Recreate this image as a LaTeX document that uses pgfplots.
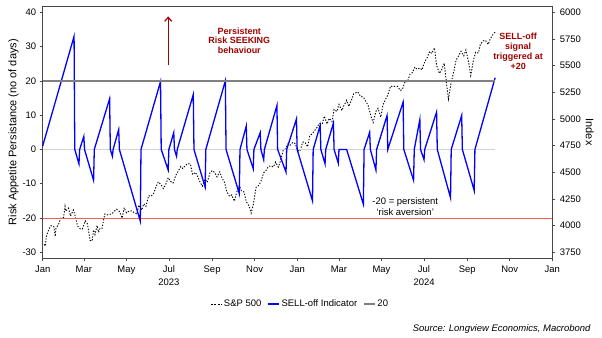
\documentclass[border=0pt]{standalone}
\usepackage{fontspec}
\setmainfont{Liberation Sans}
\usepackage{pgfplots}
\pgfplotsset{compat=1.18}
\usetikzlibrary{arrows.meta}
\definecolor{darkred}{RGB}{160,0,0}
\definecolor{axgray}{RGB}{70,70,70}
\definecolor{line20}{RGB}{128,128,128}
\definecolor{zerogray}{RGB}{210,210,210}
\definecolor{redline}{RGB}{255,90,90}
\definecolor{sellblue}{RGB}{0,0,255}

\begin{document}
\begin{tikzpicture}
\path[use as bounding box] (0bp,0bp) rectangle (602bp,338bp);
% ---------- S&P 500 on the right axis ----------
\begin{axis}[
  at={(42.7bp,79.7bp)}, anchor=south west,
  scale only axis, width=509.6bp, height=252.3bp,
  xmin=0, xmax=731, ymin=3693.75, ymax=6059,
  axis x line=none, axis y line*=right,
  axis line style={axgray, line width=0.8bp},
  ytick={3750,4000,4250,4500,4750,5000,5250,5500,5750,6000},
  tick align=outside, major tick length=3bp,
  tick style={axgray, line width=0.6bp},
  yticklabel style={font=\fontsize{9.5}{11}\selectfont, xshift=1bp},
  /pgf/number format/assume math mode=true,
  /pgf/number format/set thousands separator={},
  ylabel={Index}, ylabel style={rotate=180, font=\fontsize{11}{13}\selectfont},
  ylabel shift=-2bp,
]
\addplot[black, line width=0.9bp, dash pattern=on 1.3bp off 1.6bp] coordinates {
(2,3824) (4,3808) (5,3895) (9,3970) (12,3999) (16,3990) (18,3899) (19,3973) (23,4017) (26,4071)
(30,4077) (32,4180) (33,4136) (37,4164) (40,4090) (44,4147) (47,4079) (50,3997) (54,3970) (57,3970)
(61,4045) (64,4019) (68,3862) (71,3856) (73,3960) (75,3917) (78,4002) (80,3937) (82,3971) (85,3971)
(89,4109) (92,4100) (95,4105) (99,4109) (103,4137) (106,4154) (110,4133) (114,4071) (117,4169) (120,4119)
(124,4136) (127,4138) (131,4124) (135,4109) (138,4192) (142,4145) (145,4205) (148,4180) (152,4282) (155,4274)
(159,4299) (163,4372) (166,4410) (170,4381) (173,4348) (176,4378) (180,4450) (184,4411) (187,4399) (191,4473)
(194,4505) (198,4555) (201,4536) (205,4566) (208,4582) (212,4576) (215,4478) (219,4499) (222,4464) (226,4405)
(229,4370) (233,4436) (236,4406) (240,4497) (243,4516) (247,4497) (250,4457) (254,4505) (257,4450) (261,4402)
(264,4320) (268,4274) (271,4288) (275,4229) (278,4309) (282,4376) (285,4327) (289,4314) (292,4224) (296,4186)
(299,4117) (302,4194) (306,4358) (310,4378) (313,4415) (317,4495) (320,4514) (324,4556) (327,4559) (331,4550)
(334,4595) (338,4549) (341,4604) (345,4707) (348,4719) (352,4768) (355,4755) (359,4781) (362,4770) (366,4705)
(369,4697) (373,4783) (376,4784) (380,4739) (383,4840) (387,4864) (390,4891) (394,4925) (397,4959) (401,4954)
(404,5027) (408,4953) (411,5006) (415,4976) (418,5089) (422,5070) (425,5137) (429,5079) (432,5124) (436,5175)
(439,5117) (443,5179) (446,5234) (450,5248) (452,5254) (456,5211) (460,5204) (464,5160) (467,5123) (471,5022)
(474,4967) (478,5071) (481,5100) (485,5018) (488,5128) (492,5188) (495,5223) (499,5308) (502,5303) (506,5307)
(509,5305) (513,5267) (516,5278) (520,5354) (523,5347) (527,5421) (530,5432) (534,5487) (537,5465) (541,5478)
(544,5460) (548,5537) (551,5567) (555,5633) (558,5615) (562,5667) (565,5505) (569,5427) (572,5459) (576,5522)
(579,5346) (582,5186) (586,5344) (590,5455) (593,5554) (597,5597) (600,5635) (604,5592) (607,5648) (611,5529)
(614,5408) (618,5554) (621,5626) (625,5618) (628,5703) (632,5732) (635,5738) (639,5699) (642,5751) (646,5792)
(649,5815)
};
\end{axis}
% ---------- SELL-off indicator on the left axis ----------
\begin{axis}[
  at={(42.7bp,79.7bp)}, anchor=south west,
  scale only axis, width=509.6bp, height=252.3bp,
  xmin=0, xmax=731, ymin=-31.75, ymax=41.84,
  axis line style={axgray, line width=0.8bp},
  xtick pos=bottom, ytick pos=left,
  tick align=outside, major tick length=3bp,
  tick style={axgray, line width=0.6bp},
  ytick={-30,-20,-10,0,10,20,30,40},
  xtick={0,59,120,181,243,304,365,425,486,547,609,670,731},
  xticklabels={Jan,Mar,May,{Jul\\2023},Sep,Nov,Jan,Mar,May,{Jul\\2024},Sep,Nov,Jan},
  xticklabel style={font=\fontsize{9.5}{12.5}\selectfont, align=center, yshift=-1bp},
  yticklabel style={font=\fontsize{9.5}{11}\selectfont},
  /pgf/number format/assume math mode=true,
  ylabel={Risk Appetite Persistance (no of days)},
  ylabel style={font=\fontsize{11}{13}\selectfont},
  ylabel shift=-3bp,
  legend style={at={(0.505,-0.181)}, anchor=center, draw=none, fill=none,
    legend columns=-1, font=\fontsize{9.5}{11}\selectfont,
    /tikz/every even column/.append style={column sep=4bp}},
  legend image code/.code={\draw[#1] (0bp,0bp) -- (11bp,0bp);},
  clip=false,
]
\addlegendimage{black, line width=0.9bp, dash pattern=on 2bp off 1.6bp}
\addlegendentry{S\&P 500}
% background reference lines
\addplot[zerogray, line width=0.9bp, forget plot] coordinates {(0,0) (649,0)};
\addplot[redline, line width=0.9bp, forget plot] coordinates {(0,-20) (731,-20)};
\addplot[sellblue, line width=1.3bp] coordinates {
(0,1) (45,33) (46,0) (52,-4.2) (53,0) (59,3.8) (60,0) (73,-9) (74,0) (96,14.8)
(97,0) (100,-2) (101,0) (109,5.8) (110,0) (140,-20.9) (141,0) (169,19.8) (170,0) (180,-6)
(181,0) (188,4.9) (189,0) (192,-2) (193,0) (216,16) (217,0) (233,-11) (234,0) (262,20)
(263,0) (282,-12.9) (283,0) (292,6.8) (293,0) (302,-5.6) (303,0) (312,4.9) (313,0) (317,-3)
(318,0) (336,12.8) (337,0) (349,-6.6) (350,0) (364,8.9) (365,0) (387,-15) (388,0) (398,7)
(399,0) (405,-4.2) (406,0) (417,7.7) (418,0) (424,-4) (425,0) (436,0) (460,-16) (461,0)
(469,5) (470,0) (478,-6) (479,0) (494,9.9) (495,0) (517,13.8) (518,0) (532,-9) (533,0)
(541,8.7) (542,0) (547,-3) (548,0) (565,10.9) (566,0) (585,-14.1) (586,0) (601,9.9) (602,0)
(619,-12) (620,0) (649,20.9)
};
\addlegendentry{SELL-off Indicator}
\addplot[line20, line width=1.3bp] coordinates {(0,20) (649,20)};
\addlegendentry{20}
% annotations
\draw[darkred, line width=1.2bp, -{Straight Barb[length=4bp,width=7bp]}] (axis cs:180,24.6) -- (axis cs:180,38.8);
\node[darkred, font=\bfseries\fontsize{9}{10}\selectfont, align=center] at (axis cs:282,31.7)
  {Persistent\\Risk SEEKING\\behaviour};
\node[darkred, font=\bfseries\fontsize{9}{10.3}\selectfont, align=center] at (axis cs:682,28.6)
  {SELL-off\\signal\\triggered at\\+20};
\node[black, font=\fontsize{9.5}{11}\selectfont, align=center] at (axis cs:520,-16.8)
  {-20 = persistent\\`risk aversion'};
\end{axis}
\node[anchor=east, font=\itshape\fontsize{9.5}{11}\selectfont] at (594bp,9bp)
  {Source: Longview Economics, Macrobond};
\end{tikzpicture}
\end{document}
